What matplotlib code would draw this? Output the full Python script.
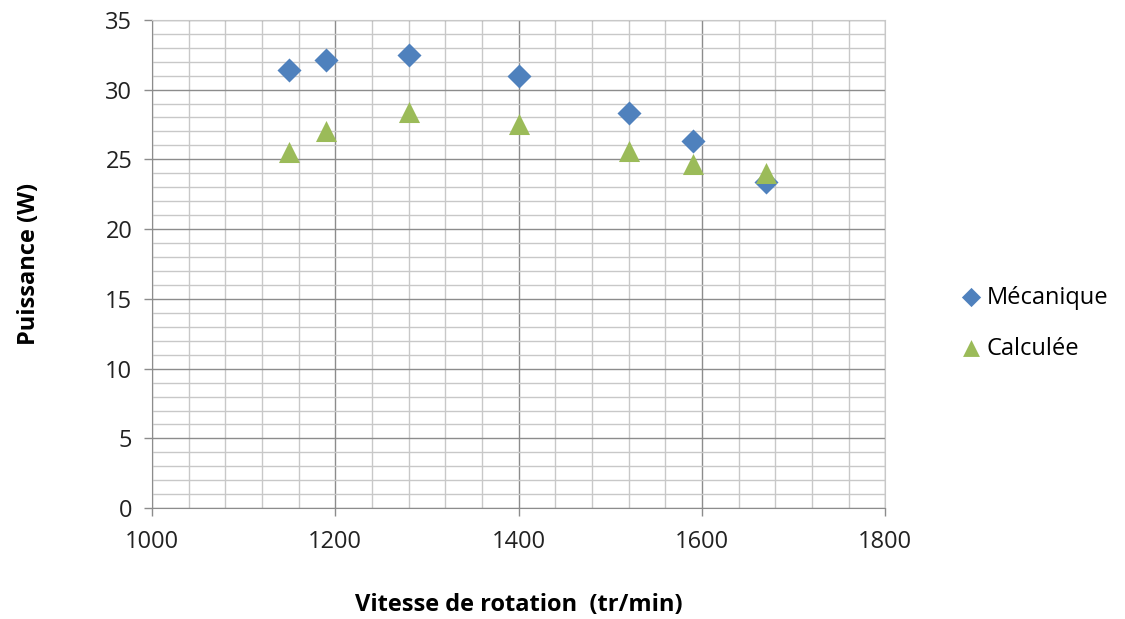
import matplotlib
matplotlib.use("Agg")
import matplotlib.pyplot as plt
from matplotlib.ticker import MultipleLocator

# Values
vitesse = [1150, 1190, 1280, 1400, 1520, 1590, 1670]
mecanique = [31.4, 32.1, 32.5, 31.0, 28.3, 26.3, 23.4]
calculee = [25.5, 27.0, 28.4, 27.5, 25.6, 24.7, 24.0]

plt.rcParams["font.family"] = ["Open Sans", "DejaVu Sans"]

fig = plt.figure(figsize=(11.25, 6.19), dpi=100)
ax = fig.add_axes([0.135, 0.179, 0.652, 0.789])

ax.scatter(vitesse, mecanique, marker="D", s=150, color="#4F81BD",
           label="Mécanique", zorder=3, linewidths=0)
ax.scatter(vitesse, calculee, marker="^", s=230, color="#9BBB59",
           label="Calculée", zorder=3, linewidths=0)

ax.set_xlim(1000, 1800)
ax.set_ylim(0, 35)
ax.xaxis.set_major_locator(MultipleLocator(200))
ax.xaxis.set_minor_locator(MultipleLocator(40))
ax.yaxis.set_major_locator(MultipleLocator(5))
ax.yaxis.set_minor_locator(MultipleLocator(1))

ax.grid(which="major", color="#8c8c8c", linewidth=1.0, zorder=1)
ax.grid(which="minor", color="#c8c8c8", linewidth=1.0, zorder=1)
ax.set_axisbelow(True)

for side in ["top", "right"]:
    ax.spines[side].set_color("#c8c8c8")
for side in ["left", "bottom"]:
    ax.spines[side].set_color("#8c8c8c")

ax.tick_params(which="major", length=6, width=1, color="#8c8c8c",
               labelsize=17, labelcolor="#222222")
ax.tick_params(axis="x", pad=10)
ax.tick_params(axis="y", pad=8)
ax.tick_params(which="minor", length=0)

ax.set_xlabel("Vitesse de rotation  (tr/min)", fontsize=17, fontweight="bold",
              labelpad=28)
ax.set_ylabel("Puissance (W)", fontsize=17, fontweight="bold", labelpad=46)

fig.legend(loc="center left", bbox_to_anchor=(0.834, 0.478), frameon=False,
           fontsize=17, handlelength=1.0, handletextpad=0.15,
           labelspacing=1.15, markerscale=0.8)

fig.savefig("out.png", dpi=100)
